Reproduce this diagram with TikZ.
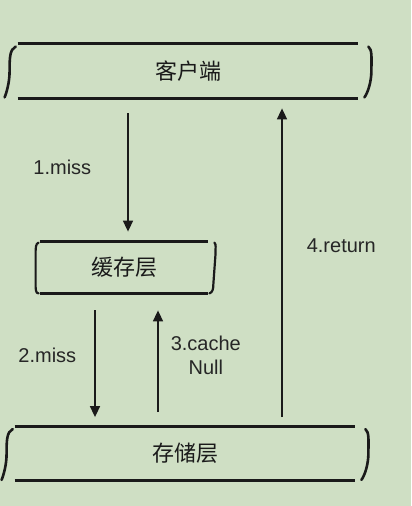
\documentclass[tikz,border=0pt]{standalone}
\usepackage{fontspec}
\setmainfont{Liberation Sans}
\newfontfamily\cjk{Noto Sans CJK SC}
\usetikzlibrary{positioning,arrows.meta,calc}
\definecolor{fondo}{HTML}{CFDFC4}
\definecolor{tinta}{HTML}{1A1A1A}
\definecolor{rotulo}{HTML}{262626}

\begin{document}
\begin{tikzpicture}[x=0.5pt, y=-0.5pt, font=\fontsize{10}{12}\selectfont,
      capa/.style={minimum width=170pt, minimum height=27pt, inner sep=0pt,
                   font=\cjk\fontsize{11}{13}\selectfont, text=tinta},
      linea/.style={draw=tinta, line width=1.5pt},
      llave/.style={draw=tinta, line width=1.3pt, line cap=round},
      f/.style={-{Triangle[length=5.5pt, width=5pt]}, draw=tinta, line width=0.8pt},
      ms/.style={text=rotulo, align=center, inner sep=2pt}]

    % fondo y marco
    \fill[fondo] (0,0) rectangle (411,506);
    \useasboundingbox (0,0) rectangle (411,506);

    % --- las tres capas ---------------------------------------------------
    \node[capa] (cli) at (188,71) {客户端};
    \node[capa, minimum width=84pt, minimum height=25.5pt] (cache) at (124,267.5) {缓存层};
    \node[capa] (alm) at (185,453.5) {存储层};

    \foreach \n in {cli,cache,alm}
      \draw[linea] (\n.north west) -- (\n.north east) (\n.south west) -- (\n.south east);

    \foreach \n in {cli,alm} {
      \draw[llave] ([shift={(-2,3)}]\n.north west) .. controls +(-6,3) and +(0,-12) ..
        ([shift={(-8,27)}]\n.north west) .. controls +(0,12) and +(2,-5) ..
        ([shift={(-13,-1)}]\n.south west);
      \draw[llave] ([shift={(10,3)}]\n.north east) .. controls +(4,3) and +(0,-12) ..
        ([shift={(13,27)}]\n.north east) .. controls +(0,12) and +(3,-4) ..
        ([shift={(6,-1)}]\n.south east);
    }
    \draw[llave, line width=1.1pt] ([shift={(-1,1)}]cache.north west) .. controls +(-3,1) and +(0,-8) ..
      ([shift={(-4,14)}]cache.north west) -- ([shift={(-4,-10)}]cache.south west)
      .. controls +(0,6) and +(-3,0) .. ([shift={(-1,0)}]cache.south west);
    \draw[llave, line width=1.1pt] ([shift={(6,1)}]cache.north east) .. controls +(2,2) and +(0,-8) ..
      ([shift={(7,14)}]cache.north east) -- ([shift={(5,-10)}]cache.south east)
      .. controls +(0,6) and +(3,-1) .. ([shift={(1,0)}]cache.south east);

    % --- flechas ----------------------------------------------------------
    \draw[f] ([shift={(-60,15)}]cli.south) -- node[ms, pos=0.46, left=16pt] {1.miss}
      ([shift={(4,-10)}]cache.north);
    \draw[f] ([shift={(-29,17)}]cache.south) -- node[ms, pos=0.42, left=7pt] {2.miss}
      ([shift={(-90,-9)}]alm.north);
    \draw[f] ([shift={(-27,-14)}]alm.north) -- node[ms, pos=0.56, right=4pt] {3.cache\\Null}
      ([shift={(34,17)}]cache.south);
    \draw[f] ([shift={(97,-9)}]alm.north) -- node[ms, pos=0.555, right=10pt] {4.return}
      ([shift={(94,10)}]cli.south);
  \end{tikzpicture}
\end{document}
